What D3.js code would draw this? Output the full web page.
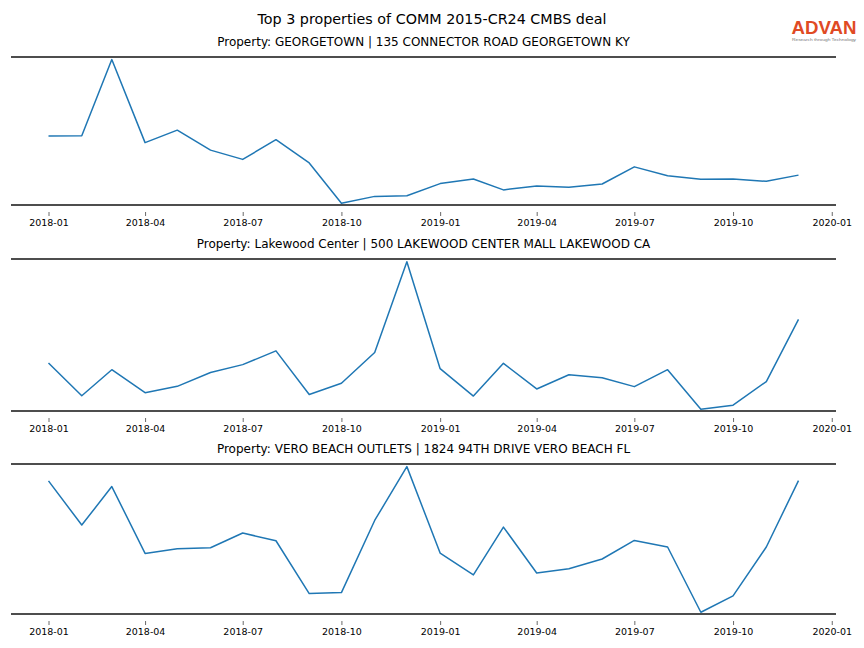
<!DOCTYPE html>
<html>
<head>
<meta charset="utf-8">
<script src="https://cdn.jsdelivr.net/npm/d3@7"></script>
<style>
  body { margin: 0; background: #fff; }
  svg { display: block; font-family: "DejaVu Sans", sans-serif; }
</style>
</head>
<body>
<svg id="chart" width="864" height="648"></svg>
<script>
// ---- data ----
const mainTitle = "Top 3 properties of COMM 2015-CR24 CMBS deal";
const months = ["2018-01","2018-02","2018-03","2018-04","2018-05","2018-06","2018-07","2018-08","2018-09","2018-10","2018-11","2018-12",
                "2019-01","2019-02","2019-03","2019-04","2019-05","2019-06","2019-07","2019-08","2019-09","2019-10","2019-11","2019-12"];
const propertyTitles = [
  "Property: GEORGETOWN | 135 CONNECTOR ROAD GEORGETOWN KY",
  "Property: Lakewood Center | 500 LAKEWOOD CENTER MALL LAKEWOOD CA",
  "Property: VERO BEACH OUTLETS | 1824 94TH DRIVE VERO BEACH FL"
];
const georgetown = [69.0, 69.3, 146.7, 62.3, 75.0, 54.7, 45.3, 65.3, 41.7, 0.7, 7.7, 8.3,
                    20.7, 25.3, 14.3, 18.3, 17.0, 20.3, 37.7, 28.7, 25.0, 25.3, 23.0, 29.3];
const lakewood   = [48.3, 16.0, 41.7, 19.0, 25.3, 39.0, 46.7, 60.3, 17.3, 28.3, 58.7, 148.3,
                    42.7, 15.7, 48.0, 22.7, 36.7, 33.7, 25.0, 41.7, 2.7, 6.7, 30.0, 91.3];
const veroBeach  = [132.7, 88.4, 127.0, 60.0, 64.7, 65.7, 80.4, 72.7, 19.7, 20.7, 93.0, 147.0,
                    60.4, 38.4, 86.4, 40.4, 44.7, 54.4, 73.0, 66.4, 1.0, 17.4, 66.4, 133.0];
const seriesList = [georgetown, lakewood, veroBeach];
const tickLabels = ["2018-01","2018-04","2018-07","2018-10","2019-01","2019-04","2019-07","2019-10","2020-01"];

// ---- layout ----
const W = 864;
const plotLeft = 11, plotRight = 836;
const panels = [ {top: 57, bottom: 205}, {top: 259, bottom: 411}, {top: 464, bottom: 614} ];

const parse = d3.timeParse("%Y-%m");
const dates = months.map(parse);
const ext = d3.extent(dates);
const span = ext[1] - ext[0];
const x = d3.scaleTime()
  .domain([new Date(+ext[0] - span * 0.05), new Date(+ext[1] + span * 0.05)])
  .range([plotLeft, plotRight]);

const svg = d3.select("#chart");

svg.append("text")
  .attr("x", W / 2).attr("y", 24)
  .attr("text-anchor", "middle")
  .attr("font-size", 14.3)
  .attr("fill", "#000")
  .text(mainTitle);

// Logo
const logo = svg.append("g");
logo.append("text")
  .attr("x", 824).attr("y", 33.5)
  .attr("text-anchor", "middle")
  .attr("font-family", "Liberation Sans, Arial, sans-serif")
  .attr("font-weight", "bold")
  .attr("font-size", 19)
  .attr("fill", "#e04a24")
  .attr("textLength", 65)
  .attr("lengthAdjust", "spacingAndGlyphs")
  .text("ADVAN");
logo.append("text")
  .attr("x", 824).attr("y", 40.5)
  .attr("text-anchor", "middle")
  .attr("font-family", "Liberation Sans, Arial, sans-serif")
  .attr("font-size", 4)
  .attr("fill", "#777")
  .attr("textLength", 64)
  .attr("lengthAdjust", "spacingAndGlyphs")
  .text("Research through Technology");

const tickDates = tickLabels.map(parse);

panels.forEach((p, i) => {
  const vals = seriesList[i];
  const ve = d3.extent(vals);
  const r = ve[1] - ve[0];
  const y = d3.scaleLinear()
    .domain([ve[0] - r * 0.012, ve[1] + r * 0.018])
    .range([p.bottom, p.top]);

  const g = svg.append("g");

  g.append("text")
    .attr("x", (plotLeft + plotRight) / 2).attr("y", p.top - 11)
    .attr("text-anchor", "middle")
    .attr("font-size", 12)
    .attr("fill", "#000")
    .text(propertyTitles[i]);

  // top & bottom spines
  [p.top, p.bottom].forEach(yy => {
    g.append("line")
      .attr("x1", plotLeft).attr("x2", plotRight)
      .attr("y1", yy).attr("y2", yy)
      .attr("stroke", "#4d4d4d").attr("stroke-width", 2);
  });

  // x axis (ticks offset below the spine)
  const axis = d3.axisBottom(x)
    .tickValues(tickDates)
    .tickFormat(d3.timeFormat("%Y-%m"))
    .tickSize(4)
    .tickPadding(3);
  const ag = g.append("g")
    .attr("transform", `translate(0,${p.bottom + 7})`)
    .call(axis);
  ag.select(".domain").remove();
  ag.selectAll(".tick line").attr("stroke", "#444").attr("stroke-width", 0.8);
  ag.selectAll(".tick text")
    .attr("font-family", "DejaVu Sans, sans-serif")
    .attr("font-size", 9.5)
    .attr("fill", "#000");

  const line = d3.line()
    .x((d, j) => x(dates[j]))
    .y(d => y(d));
  g.append("path")
    .datum(vals)
    .attr("d", line)
    .attr("fill", "none")
    .attr("stroke", "#1f77b4")
    .attr("stroke-width", 1.5)
    .attr("stroke-linejoin", "round");
});
</script>
</body>
</html>
